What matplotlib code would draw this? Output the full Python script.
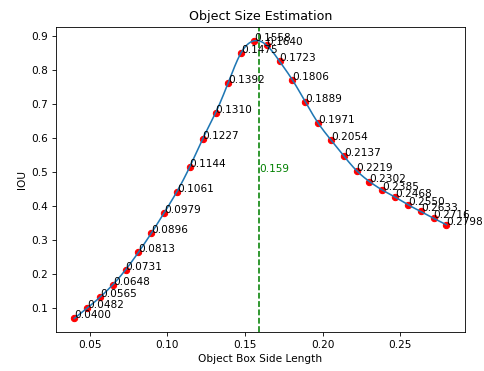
import numpy as np
import matplotlib
matplotlib.use("Agg")
import matplotlib.pyplot as plt

# Data
box_side = [0.0400, 0.0482, 0.0565, 0.0648, 0.0731, 0.0813, 0.0896, 0.0979, 0.1061, 0.1144,
            0.1227, 0.1310, 0.1392, 0.1475, 0.1558, 0.1640, 0.1723, 0.1806, 0.1889, 0.1971,
            0.2054, 0.2137, 0.2219, 0.2302, 0.2385, 0.2468, 0.2550, 0.2633, 0.2716, 0.2798]
iou = [0.070, 0.100, 0.132, 0.169, 0.213, 0.264, 0.320, 0.380, 0.442, 0.515,
       0.597, 0.673, 0.762, 0.850, 0.885, 0.872, 0.825, 0.770, 0.706, 0.644,
       0.594, 0.547, 0.504, 0.472, 0.447, 0.426, 0.404, 0.384, 0.364, 0.345]
best_side = 0.159
best_label = "0.159"

x = np.array(box_side)
y = np.array(iou)


def natural_cubic_spline(xk, yk, xs):
    n = len(xk)
    h = np.diff(xk)
    A = np.zeros((n, n))
    b = np.zeros(n)
    A[0, 0] = 1
    A[-1, -1] = 1
    for i in range(1, n - 1):
        A[i, i - 1] = h[i - 1]
        A[i, i] = 2 * (h[i - 1] + h[i])
        A[i, i + 1] = h[i]
        b[i] = 3 * ((yk[i + 1] - yk[i]) / h[i] - (yk[i] - yk[i - 1]) / h[i - 1])
    c = np.linalg.solve(A, b)
    bb = (np.diff(yk) / h) - h * (2 * c[:-1] + c[1:]) / 3
    d = np.diff(c) / (3 * h)
    idx = np.clip(np.searchsorted(xk, xs) - 1, 0, n - 2)
    dx = xs - xk[idx]
    return yk[idx] + bb[idx] * dx + c[idx] * dx ** 2 + d[idx] * dx ** 3


xs = np.linspace(x.min(), x.max(), 400)
ys = natural_cubic_spline(x, y, xs)

fig = plt.figure(figsize=(6.4, 4.906), dpi=75.625)
ax = fig.add_axes([0.1151, 0.1043, 0.9607 - 0.1151, 0.928 - 0.1043])

ax.plot(xs, ys, color="C0")
ax.scatter(x, y, color="red")
for xi, yi in zip(box_side, iou):
    ax.text(xi, yi, f"{xi:.4f}")

ax.axvline(best_side, color="green", linestyle="--")
ax.text(best_side, 0.5, best_label, color="green")

ax.set_title("Object Size Estimation")
ax.set_xlabel("Object Box Side Length")
ax.set_ylabel("IOU")

fig.savefig("out.png", dpi=75.625)
